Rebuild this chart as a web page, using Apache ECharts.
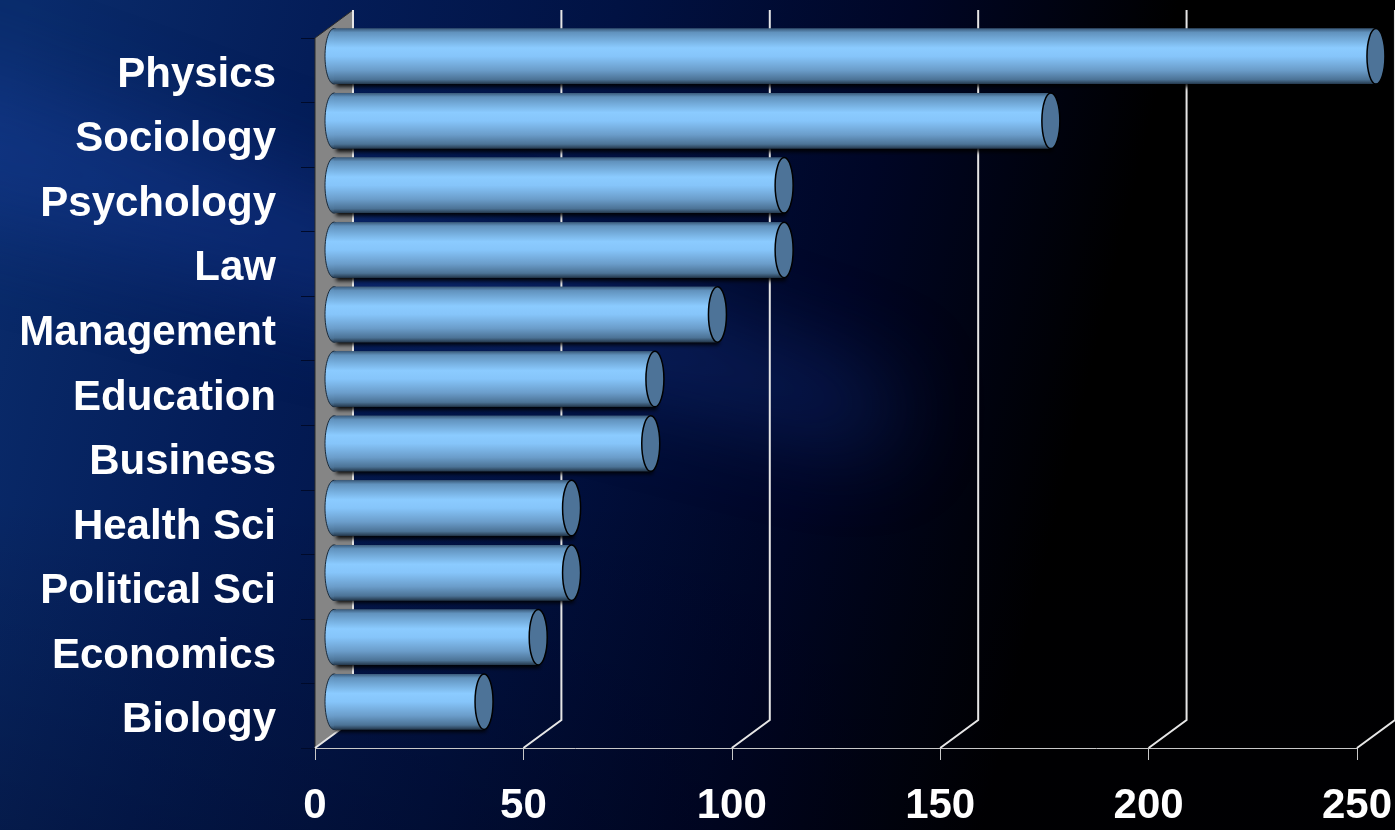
<!DOCTYPE html>
<html>
<head>
<meta charset="utf-8">
<script src="https://cdn.jsdelivr.net/npm/echarts@6/dist/echarts.min.js"></script>
<style>
html,body{margin:0;padding:0;background:#000;}
#chart{width:1395px;height:830px;}
</style>
</head>
<body>
<div id="chart"></div>
<script>
const categories = ['Physics','Sociology','Psychology','Law','Management','Education','Business','Health Sci','Political Sci','Economics','Biology'];
const values = [250,172,108,108,92,77,76,57,57,49,36];
const xTicks = [0,50,100,150,200,250];

const DX = 38, DY = -28;
const chart = echarts.init(document.getElementById('chart'));

const bodyFill = {
  type:'linear', x:0, y:0, x2:0, y2:1,
  colorStops:[
    {offset:0, color:'#3a5a7a'},
    {offset:0.07, color:'#6192bd'},
    {offset:0.35, color:'#8bcbff'},
    {offset:0.5, color:'#86c5fa'},
    {offset:0.75, color:'#6b9dca'},
    {offset:0.92, color:'#4c7396'},
    {offset:1, color:'#24384c'}
  ]
};

const OFF = 3000;
chart.setOption({
  backgroundColor: {
    type:'linear', x:0, y:0.15, x2:1, y2:0.55,
    colorStops:[
      {offset:0, color:'#0a2c6c'},
      {offset:0.2, color:'#041d58'},
      {offset:0.4, color:'#011243'},
      {offset:0.6, color:'#000626'},
      {offset:0.78, color:'#000000'},
      {offset:1, color:'#000000'}
    ]
  },
  animation:false,
  graphic:[
    {
      type:'polygon', z:-5, silent:true,
      shape:{points:[[-100-OFF,40],[-100-OFF,200],[880-OFF,450],[900-OFF,390]]},
      style:{fill:'rgba(30,70,170,1)', shadowBlur:90, shadowOffsetX:OFF, shadowColor:'rgba(30,70,170,0.35)'}
    },
    {
      type:'rect', z:-4, silent:true,
      left:0, bottom:0,
      shape:{width:1395, height:330},
      style:{fill:{type:'linear', x:0, y:0, x2:0, y2:1, colorStops:[
        {offset:0, color:'rgba(0,0,10,0)'},
        {offset:1, color:'rgba(0,0,10,0.25)'}
      ]}}
    }
  ],
  grid:{left:315, right:37, top:38, bottom:82},
  xAxis:{
    type:'value', min:0, max:250, interval:50,
    axisLine:{show:true, lineStyle:{color:'#c8c8c8', width:1}},
    axisTick:{show:true, length:12, lineStyle:{color:'#c8c8c8'}},
    splitLine:{show:false},
    axisLabel:{color:'#ffffff', fontFamily:'Liberation Sans', fontWeight:'bold', fontSize:42, margin:37}
  },
  yAxis:{
    type:'category', data:categories, inverse:true,
    axisLine:{show:false},
    axisTick:{show:true, length:14, lineStyle:{color:'#000a2a'}},
    axisLabel:{color:'#ffffff', fontFamily:'Liberation Sans', fontWeight:'bold', fontSize:42, margin:39, verticalAlign:'top', lineHeight:10}
  },
  series:[
    {
      type:'custom', z:1, silent:true,
      data: xTicks.map(v=>[v]),
      encode:{x:0},
      renderItem(params, api){
        const cs = params.coordSys;
        const x = api.coord([api.value(0), 0])[0];
        const top = cs.y, bottom = cs.y + cs.height;
        const children = [];
        if (params.dataIndex === 0) {
          children.push({
            type:'polygon',
            shape:{points:[[x,bottom],[x,top],[x+DX,top+DY],[x+DX,bottom+DY]]},
            style:{fill:'#858585', stroke:'#2a2a2a', lineWidth:1}
          });
        }
        children.push({
          type:'polyline',
          shape:{points:[[x,bottom],[x+DX,bottom+DY],[x+DX,top+DY]]},
          style:{stroke:'#e6e6e6', lineWidth:2, fill:null}
        });
        return {type:'group', children};
      }
    },
    {
      type:'custom', z:5, silent:true,
      data: values.map((v,i)=>[v,i]),
      encode:{x:0, y:1},
      renderItem(params, api){
        const v = api.value(0), ci = api.value(1);
        const s = api.coord([0, ci]);
        const e = api.coord([v, ci]);
        const band = api.size([0,1])[1];
        const ry = band*0.43;
        const rx = 9;
        const x0 = s[0] + DX/2, x1 = e[0] + DX/2, cy = s[1] + DY/2;
        return {
          type:'group',
          children:[
            {type:'rect', shape:{x:x0, y:cy-ry, width:x1-x0, height:ry*2},
             style:{fill:bodyFill, shadowBlur:4, shadowOffsetY:3, shadowOffsetX:2, shadowColor:'rgba(0,0,0,0.9)'}},
            {type:'ellipse', shape:{cx:x0, cy:cy, rx:rx, ry:ry},
             style:{fill:bodyFill, stroke:'#1a2a3a', lineWidth:1}},
            {type:'rect', shape:{x:x0, y:cy-ry, width:x1-x0, height:ry*2},
             style:{fill:bodyFill}},
            {type:'ellipse', shape:{cx:x1, cy:cy, rx:rx, ry:ry},
             style:{fill:'#4d7398', stroke:'#000000', lineWidth:1.5}}
          ]
        };
      }
    }
  ]
});
</script>
</body>
</html>
